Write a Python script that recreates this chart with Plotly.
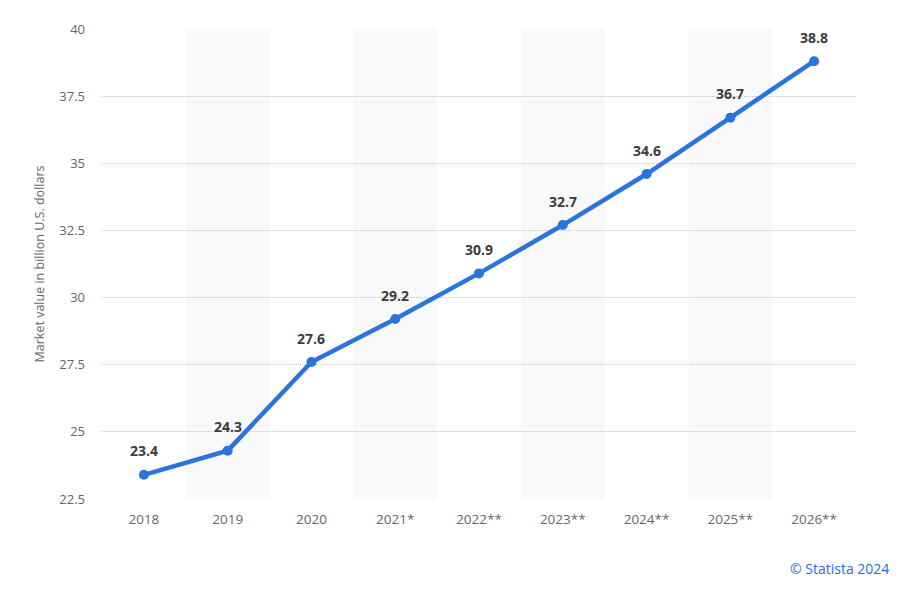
import plotly.graph_objects as go

years = ["2018", "2019", "2020", "2021*", "2022**", "2023**", "2024**", "2025**", "2026**"]
market_value = [23.4, 24.3, 27.6, 29.2, 30.9, 32.7, 34.6, 36.7, 38.8]
y_ticks = [22.5, 25, 27.5, 30, 32.5, 35, 37.5, 40]
y_tick_labels = ["22.5", "25", "27.5", "30", "32.5", "35", "37.5", "40"]

fig = go.Figure()

fig.add_trace(go.Scatter(
    x=years, y=market_value, mode="lines+markers",
    line=dict(color="#2a74db", width=4.5),
    marker=dict(color="#2a74db", size=10),
    cliponaxis=False,
    hoverinfo="x+y",
))

# value labels above points (category index so numeric-looking years are not misread)
for i, v in enumerate(market_value):
    fig.add_annotation(x=i, y=v, text=f"<b>{v:.1f}</b>", showarrow=False,
                       yshift=24, font=dict(family="Open Sans", size=14, color="#3c3c3c"))

# alternating column shading
for i, yr in enumerate(years):
    if i % 2 == 1:
        fig.add_shape(type="rect", xref="x", yref="paper",
                      x0=i - 0.5, x1=i + 0.5, y0=0, y1=1,
                      fillcolor="#f9f9f9", line_width=0, layer="below")

fig.add_annotation(text="© Statista 2024", xref="paper", yref="paper",
                   x=1.047, y=-0.148, xanchor="right", yanchor="middle",
                   showarrow=False,
                   font=dict(size=14, color="#1f6ee8", family="Open Sans"))

fig.update_layout(
    width=899, height=581,
    margin=dict(l=94, r=51, t=21, b=90),
    plot_bgcolor="white", paper_bgcolor="white",
    font=dict(family="Open Sans", color="#666666"),
    showlegend=False,
    xaxis=dict(type="category", range=[-0.5, 8.5], showgrid=False, zeroline=False,
               tickfont=dict(size=13.5, color="#666666"), ticks="", showline=False,
               ticklabelstandoff=10, automargin=False),
    yaxis=dict(range=[22.5, 40], tickvals=y_ticks, ticktext=y_tick_labels,
               showgrid=True, gridcolor="#c4c4c4", griddash="1px,1px", gridwidth=1,
               zeroline=False, tickfont=dict(size=13, color="#666666"),
               ticklabelstandoff=16, automargin=False,
               title=dict(text="Market value in billion U.S. dollars",
                          font=dict(size=12.5, color="#666666"), standoff=11)),
)

fig.write_html("out.html")
